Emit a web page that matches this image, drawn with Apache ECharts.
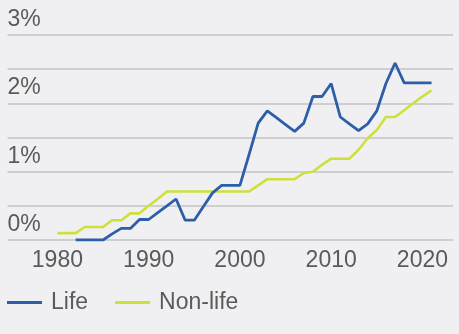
<!DOCTYPE html>
<html>
<head>
<meta charset="utf-8">
<style>
html,body{margin:0;padding:0;background:#f0f0f2;}
#c{width:459px;height:334px;}
</style>
<script src="https://cdn.jsdelivr.net/npm/echarts@6/dist/echarts.min.js"></script>
</head>
<body>
<div id="c"></div>
<script>
const years = [1980,1981,1982,1983,1984,1985,1986,1987,1988,1989,1990,1991,1992,1993,1994,1995,1996,1997,1998,1999,2000,2001,2002,2003,2004,2005,2006,2007,2008,2009,2010,2011,2012,2013,2014,2015,2016,2017,2018,2019,2020,2021];
const life = [null,null,0,0,0,0,0.09,0.17,0.17,0.3,0.3,0.4,0.5,0.6,0.29,0.29,0.49,0.69,0.8,0.8,0.8,1.25,1.71,1.89,1.79,1.69,1.59,1.71,2.1,2.1,2.29,1.8,1.7,1.6,1.7,1.89,2.29,2.59,2.3,2.3,2.3,2.3];
const nonLife = [0.1,0.1,0.1,0.19,0.19,0.19,0.29,0.29,0.39,0.39,0.5,0.6,0.71,0.71,0.71,0.71,0.71,0.71,0.71,0.71,0.71,0.71,0.8,0.89,0.89,0.89,0.89,0.98,1.0,1.1,1.19,1.19,1.19,1.32,1.49,1.61,1.8,1.8,1.9,2.0,2.1,2.19];
const xTickLabels = [1980,1990,2000,2010,2020];
const seriesNames = ['Life','Non-life'];

const font = 'Liberation Sans, Arial, sans-serif';
const textColor = '#5a5a5a';
const chart = echarts.init(document.getElementById('c'), null, {renderer:'canvas'});
chart.setOption({
  backgroundColor:'#f0f0f2',
  animation:false,
  grid:{left:7.5, right:6, top:35, bottom:94, containLabel:false},
  legend:{
    left:7, top:291, padding:0, itemWidth:35, itemHeight:3, itemGap:27, icon:'rect',
    textStyle:{fontSize:23, color:textColor, fontFamily:font, padding:[0,0,0,4]},
    data:seriesNames
  },
  xAxis:{
    type:'value', min:1974.53, max:2023.35,
    axisLine:{show:false}, axisTick:{show:false}, splitLine:{show:false},
    axisLabel:{customValues:xTickLabels, fontSize:23, color:textColor, fontFamily:font, margin:9, formatter:v=>String(v)}
  },
  yAxis:{
    type:'value', min:0, max:3, interval:0.5,
    axisLine:{show:false}, axisTick:{show:false},
    splitLine:{lineStyle:{color:'#c4c4c4', width:1.5}},
    axisLabel:{inside:true, margin:0, verticalAlign:'bottom', lineHeight:23, padding:[0,0,4,0],
      fontSize:23, color:textColor, fontFamily:font,
      formatter:v=> (Math.abs(v-Math.round(v))<1e-9 ? Math.round(v)+'%' : '')}
  },
  series:[
    {name:seriesNames[0], type:'line', data:years.map((y,i)=>[y,life[i]]), showSymbol:false, symbol:'none',
     lineStyle:{color:'#2c5fa8', width:2.8}, itemStyle:{color:'#2c5fa8'}, connectNulls:false},
    {name:seriesNames[1], type:'line', data:years.map((y,i)=>[y,nonLife[i]]), showSymbol:false, symbol:'none',
     lineStyle:{color:'#cfe03c', width:2.6}, itemStyle:{color:'#cfe03c'}, z:1}
  ]
});
</script>
</body>
</html>
